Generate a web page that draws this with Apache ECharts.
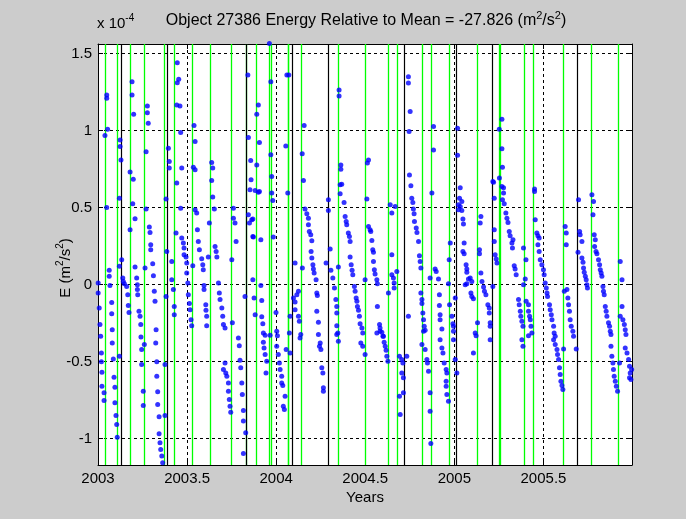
<!DOCTYPE html>
<html>
<head>
<meta charset="utf-8">
<script src="https://cdn.jsdelivr.net/npm/echarts@6/dist/echarts.min.js"></script>
<style>
  html, body { margin: 0; padding: 0; background: #cccccc; }
  #chart { width: 686px; height: 519px; }
</style>
</head>
<body>
<div id="chart"></div>
<script>
// Object 27386: orbital energy relative to its mean, in units of 1e-4 m^2/s^2.
// Each sample is [decimal year, energy].
const samples = [
  [2003.001,0.011],[2003.001,-0.054],[2003.007,-0.151],[2003.011,-0.259],[2003.015,-0.335],[2003.019,-0.443],[2003.019,-0.501],[2003.022,-0.569],[2003.022,-0.66],[2003.034,-0.702],[2003.034,-0.752],
  [2003.049,1.232],[2003.049,1.211],[2003.054,1.01],[2003.039,0.968],[2003.049,0.501],[2003.063,0.093],[2003.063,0.054],[2003.067,-0.006],[2003.077,-0.115],[2003.077,-0.188],[2003.080,-0.292],[2003.080,-0.378],[2003.086,-0.482],[2003.090,-0.601],[2003.095,-0.666],[2003.095,-0.767],[2003.101,-0.85],[2003.105,-0.908],[2003.108,-0.99],
  [2003.124,0.94],[2003.124,0.897],[2003.129,0.81],[2003.120,0.562],[2003.133,0.162],[2003.120,0.119],[2003.139,0.043],[2003.142,0.021],[2003.148,0.006],[2003.161,-0.011],[2003.167,-0.065],[2003.170,-0.136],[2003.174,-0.18],[2003.120,-0.465],
  [2003.191,1.318],[2003.191,1.232],[2003.200,1.107],[2003.180,0.731],[2003.198,0.685],[2003.180,0.357],[2003.195,0.525],[2003.208,0.428],[2003.208,0.115],[2003.217,0.043],[2003.221,0],[2003.221,-0.032],[2003.223,-0.065],[2003.230,-0.173],[2003.236,-0.205],[2003.240,-0.259],[2003.241,-0.339],[2003.245,-0.421],[2003.260,-0.389],[2003.245,-0.519],[2003.254,-0.692],[2003.254,-0.785],[2003.264,0.108],
  [2003.277,1.161],[2003.277,1.117],[2003.282,1.049],[2003.270,0.864],[2003.270,0.491],[2003.288,0.374],[2003.292,0.339],[2003.296,0.259],[2003.296,0.227],[2003.307,0.136],[2003.311,0.058],[2003.316,-0.043],[2003.320,-0.108],[2003.326,-0.292],[2003.324,-0.378],[2003.330,-0.501],[2003.330,-0.595],[2003.335,-0.696],[2003.335,-0.778],[2003.343,-0.858],[2003.343,-0.968],[2003.348,-1.027],[2003.352,-1.07],[2003.358,-1.113],[2003.363,-1.156],[2003.376,-0.519],[2003.376,-0.85],
  [2003.395,0.886],[2003.400,0.80],[2003.400,0.757],[2003.386,0.216],[2003.382,-0.076],[2003.382,0.556],[2003.414,0.151],[2003.414,0.032],[2003.423,-0.032],[2003.428,-0.141],[2003.428,-0.195],
  [2003.445,1.442],[2003.453,1.334],[2003.445,1.312],[2003.442,1.167],[2003.460,1.161],[2003.464,0.988],[2003.470,0.757],[2003.442,0.66],[2003.438,0.335],[2003.464,0.497],[2003.470,0.303],[2003.479,0.27],[2003.483,0.238],[2003.483,0.195],[2003.494,0.18],[2003.498,0.141],[2003.498,0.076],[2003.504,0.011],[2003.507,-0.065],[2003.513,-0.123],[2003.517,-0.162],[2003.522,-0.227],[2003.526,-0.266],
  [2003.539,1.033],[2003.545,0.93],[2003.535,0.763],[2003.545,0.746],[2003.532,0.123],[2003.545,0.486],[2003.554,0.465],[2003.558,0.357],[2003.563,0.281],[2003.569,0.227],[2003.582,0.169],[2003.588,0.13],[2003.591,0.097],[2003.595,-0.006],[2003.595,-0.032],[2003.605,-0.13],[2003.606,-0.166],[2003.610,-0.205],[2003.610,-0.266],
  [2003.638,0.793],[2003.644,0.757],[2003.638,0.676],[2003.625,0.40],[2003.619,0.18],[2003.644,0.569],[2003.653,0.491],[2003.657,0.248],[2003.663,0.216],[2003.667,0.18],[2003.676,0.011],[2003.681,-0.054],[2003.685,-0.097],[2003.695,-0.151],[2003.700,-0.205],[2003.704,-0.259],[2003.713,-0.281],[2003.704,-0.551],[2003.713,-0.508],[2003.717,-0.573],[2003.723,-0.595],[2003.732,-0.638],[2003.732,-0.692],[2003.737,-0.746],[2003.741,-0.789],[2003.745,-0.828],
  [2003.751,0.162],[2003.754,-0.248],[2003.760,0.497],[2003.760,0.432],[2003.769,0.40],[2003.775,0.281],[2003.788,-0.346],[2003.793,-0.396],[2003.797,-0.491],[2003.801,-0.54],[2003.807,-0.638],[2003.810,-0.713],[2003.816,-0.817],[2003.816,-0.886],[2003.829,-0.962],[2003.816,-1.096],[2003.825,-0.076],
  [2003.841,1.362],[2003.844,0.955],[2003.900,1.167],[2003.891,1.107],[2003.857,0.806],[2003.859,0.681],[2003.906,0.923],[2003.891,0.778],[2003.844,0.454],[2003.853,0.616],[2003.863,0.421],[2003.869,0.313],[2003.869,0.032],[2003.882,-0.195],[2003.906,0.605],[2003.882,0.612],[2003.900,0.601],[2003.869,0.426],[2003.850,0.40],[2003.872,0.309],[2003.914,0.292],[2003.914,-0.006],[2003.876,-0.086],[2003.919,-0.102],[2003.919,-0.209],[2003.925,-0.253],[2003.928,-0.313],[2003.938,-0.329],[2003.928,-0.374],[2003.932,-0.411],[2003.938,-0.454],[2003.947,-0.497],[2003.943,-0.573],
  [2003.962,1.567],[2003.970,1.318],[2003.970,0.843],[2003.975,0.702],[2003.975,0.595],[2003.981,0.547],[2003.984,0.309],[2003.966,-0.329],[2003.999,-0.18],[2004.003,-0.303],[2004.007,-0.331],[2004.003,-0.40],[2004.012,-0.454],[2004.018,-0.508],[2004.022,-0.551],[2004.031,-0.595],[2004.031,-0.638],[2004.037,-0.655],[2004.050,-0.724],[2004.040,-0.789],[2004.046,-0.81],[2004.054,0.90],[2004.060,1.362],[2004.071,1.362],[2004.056,-0.421],
  [2004.065,0.595],[2004.078,-0.205],[2004.074,-0.313],[2004.078,-0.443],[2004.097,-0.086],[2004.106,-0.112],[2004.106,-0.162],[2004.106,0.141],[2004.125,-0.043],[2004.116,-0.065],[2004.125,-0.205],[2004.130,-0.238],[2004.138,-0.324],[2004.134,-0.346],[2004.147,0.108],[2004.157,1.033],[2004.146,0.85],[2004.153,0.676],
  [2004.162,0.491],[2004.172,0.46],[2004.181,0.432],[2004.181,0.389],[2004.186,0.346],[2004.194,0.324],[2004.200,0.285],[2004.196,0.216],[2004.200,0.173],[2004.206,0.13],[2004.209,0.102],[2004.213,0.076],[2004.224,0.032],[2004.228,-0.054],[2004.231,-0.071],[2004.228,-0.173],[2004.237,-0.244],[2004.237,-0.324],[2004.247,-0.378],[2004.243,-0.40],[2004.251,-0.421],[2004.256,-0.54],[2004.262,-0.573],[2004.265,-0.67],[2004.265,-0.692],[2004.280,0.141],
  [2004.293,0.551],[2004.293,0.482],[2004.303,0.232],[2004.307,0.093],[2004.318,0.043],[2004.327,-0.021],[2004.335,-0.097],[2004.340,-0.141],[2004.340,-0.184],[2004.340,-0.266],[2004.346,-0.313],[2004.340,-0.324],[2004.349,-0.368],[2004.349,0.115],[2004.353,1.265],[2004.353,1.226],[2004.363,0.778],[2004.363,0.75],[2004.368,0.653],[2004.359,0.649],[2004.359,0.59],
  [2004.381,0.534],[2004.387,0.443],[2004.393,0.41],[2004.396,0.389],[2004.405,0.335],[2004.411,0.313],[2004.415,0.281],[2004.415,0.18],[2004.421,0.13],[2004.426,0.093],[2004.430,0.065],[2004.439,-0.011],[2004.443,-0.043],[2004.449,-0.086],[2004.453,-0.108],[2004.456,-0.141],[2004.462,-0.166],[2004.467,-0.205],[2004.471,-0.253],[2004.481,-0.281],[2004.486,-0.313],[2004.475,-0.378],[2004.486,-0.40],[2004.499,-0.454],[2004.499,0.032],
  [2004.518,0.81],[2004.512,0.79],[2004.509,0.556],[2004.518,0.378],[2004.527,0.357],[2004.531,0.346],[2004.537,0.287],[2004.542,0.227],[2004.546,0.21],[2004.546,0.151],[2004.551,0.097],[2004.555,0.069],[2004.565,0.032],[2004.568,0.006],[2004.568,-0.141],[2004.580,-0.259],[2004.583,-0.281],[2004.593,-0.309],[2004.602,-0.335],[2004.565,-0.313],[2004.583,-0.303],[2004.599,-0.335],[2004.606,-0.374],[2004.612,-0.40],[2004.617,-0.426],[2004.621,-0.465],[2004.627,-0.497],
  [2004.640,0.519],[2004.649,0.465],[2004.668,0.508],[2004.649,0.195],[2004.649,0.065],[2004.658,0.043],[2004.662,0.011],[2004.662,-0.021],[2004.630,-0.054],[2004.677,0.086],[2004.692,-0.465],[2004.705,-0.486],[2004.711,-0.508],[2004.705,-0.573],[2004.714,-0.605],[2004.714,-0.702],[2004.692,-0.724],[2004.696,-0.843],
  [2004.742,1.35],[2004.742,1.31],[2004.752,1.124],[2004.746,0.994],[2004.748,0.713],[2004.756,0.642],[2004.761,0.562],[2004.767,0.534],[2004.770,0.491],[2004.774,0.46],[2004.776,0.41],[2004.786,0.368],[2004.790,0.339],[2004.799,0.281],[2004.804,0.188],[2004.808,0.151],[2004.812,0.108],[2004.742,-0.205],[2004.812,-0.054],[2004.818,-0.097],[2004.818,-0.123],[2004.823,-0.184],[2004.827,-0.227],[2004.831,-0.27],[2004.836,-0.296],[2004.733,-0.465],[2004.836,-0.421],[2004.846,-0.486],[2004.849,-0.508],[2004.855,-0.562],[2004.864,-0.702],[2004.864,-0.822],[2004.868,-1.031],[2004.827,-0.303],[2004.818,-0.389],
  [2004.883,1.027],[2004.883,0.875],[2004.874,0.595],[2004.864,0.043],[2004.892,0.102],[2004.898,0.086],[2004.911,0.037],[2004.916,-0.065],[2004.916,-0.136],[2004.920,-0.195],[2004.920,-0.227],[2004.930,-0.287],[2004.920,-0.357],[2004.930,-0.411],[2004.936,-0.443],[2004.943,-0.508],[2004.954,-0.551],[2004.958,-0.573],[2004.954,-0.627],[2004.954,-0.66],[2004.958,-0.713],[2004.967,-0.757],[2004.971,0.162],[2004.967,0.006],[2004.973,-0.13],[2004.986,-0.205],[2004.992,-0.253],[2004.995,-0.27],[2004.977,0.27],[2004.995,-0.303],[2004.995,-0.357],[2005.005,-0.486],[2005.014,-0.573],[2005.005,-0.086],
  [2005.018,1.016],[2005.018,0.841],[2005.033,0.629],[2005.029,0.562],[2005.042,0.54],[2005.033,0.508],[2005.042,0.482],[2005.023,0.519],[2005.023,0.486],[2005.048,0.426],[2005.051,0.394],[2005.055,0.27],[2005.048,0.216],[2005.055,0.201],[2005.066,0.13],[2005.070,0.102],[2005.070,0.08],[2005.079,0.037],[2005.089,0.043],[2005.098,0.021],[2005.070,0.006],[2005.061,0],[2005.093,-0.054],[2005.098,-0.076],[2005.107,-0.091],[2005.117,-0.313],[2005.122,-0.331],[2005.130,-0.248],[2005.107,-0.443],
  [2005.141,0.227],[2005.141,0.201],[2005.149,0.443],[2005.145,0.40],[2005.149,0.076],[2005.155,0.021],[2005.164,-0.015],[2005.169,-0.043],[2005.177,-0.065],[2005.188,-0.13],[2005.196,-0.151],[2005.196,-0.184],[2005.201,-0.248],[2005.201,-0.27],[2005.201,-0.357],
  [2005.216,0.67],[2005.224,0.562],[2005.224,0.357],[2005.224,0.281],[2005.229,0.195],[2005.235,0.167],[2005.239,0.141],[2005.216,-0.011],[2005.267,1.074],[2005.252,1.01],[2005.267,0.882],[2005.270,0.763],[2005.253,0.692],[2005.220,0.666],[2005.276,0.629],[2005.267,0.638],[2005.276,0.595],[2005.270,0.551],[2005.280,0.525],[2005.289,0.465],[2005.295,0.432],[2005.301,0.404],[2005.308,0.346],[2005.313,0.318],[2005.329,0.292],[2005.323,0.27],[2005.326,0.238],[2005.336,0.123],[2005.341,0.102],[2005.347,0.065],[2005.360,-0.097],[2005.364,-0.13],[2005.370,-0.173],[2005.373,-0.205],[2005.379,-0.238],[2005.385,-0.27],[2005.379,-0.357],[2005.385,-0.40],
  [2005.388,0.238],[2005.402,0.162],[2005.398,0.037],[2005.388,0],[2005.403,-0.108],[2005.416,-0.13],[2005.416,-0.173],[2005.422,-0.205],[2005.426,-0.227],[2005.430,-0.27],[2005.435,-0.313],[2005.416,-0.331],[2005.450,0.621],[2005.450,0.605],[2005.454,0.421],[2005.463,0.335],[2005.469,0.318],[2005.476,0.303],[2005.469,0.259],[2005.476,0.216],[2005.482,0.162],[2005.491,0.13],[2005.500,0.097],[2005.504,0.065],[2005.510,0.011],[2005.516,-0.021],[2005.520,-0.054],[2005.523,-0.076],
  [2005.534,-0.13],[2005.538,-0.162],[2005.544,-0.195],[2005.548,-0.227],[2005.557,-0.27],[2005.560,-0.313],[2005.566,-0.335],[2005.557,-0.357],[2005.566,-0.389],[2005.576,-0.421],[2005.579,-0.454],[2005.585,-0.486],[2005.590,-0.54],[2005.594,-0.584],[2005.598,-0.627],[2005.604,-0.655],[2005.609,-0.681],[2005.613,-0.417],
  [2005.622,0.378],[2005.628,0.335],[2005.628,0.259],[2005.617,-0.043],[2005.632,-0.032],[2005.637,-0.086],[2005.641,-0.13],[2005.646,-0.173],[2005.650,-0.227],[2005.656,-0.27],[2005.665,-0.303],[2005.669,-0.335],[2005.684,-0.417],[2005.697,0.551],[2005.703,0.346],[2005.706,0.324],[2005.716,0.281],[2005.694,0.21],[2005.716,0.173],[2005.722,0.145],[2005.725,0.108],[2005.729,0.08],[2005.735,0.054],[2005.740,0.032],[2005.744,0],[2005.747,-0.021],
  [2005.772,0.584],[2005.781,0.54],[2005.778,0.454],[2005.785,0.324],[2005.791,0.292],[2005.787,0.248],[2005.795,0.216],[2005.800,0.201],[2005.809,0.162],[2005.815,0.13],[2005.819,0.097],[2005.824,0.076],[2005.828,0.054],[2005.834,-0.011],[2005.837,-0.043],[2005.841,-0.065],[2005.847,-0.141],[2005.852,-0.173],[2005.856,-0.205],[2005.865,-0.248],[2005.871,-0.27],[2005.875,-0.303],[2005.879,-0.324],[2005.879,-0.40],[2005.884,-0.465],[2005.890,-0.508],[2005.893,-0.551],[2005.897,-0.595],[2005.903,-0.627],[2005.909,-0.66],[2005.916,-0.692],
  [2005.931,0.151],[2005.941,0.032],[2005.941,-0.141],[2005.931,-0.205],[2005.946,-0.227],[2005.954,-0.259],[2005.959,-0.292],[2005.963,-0.324],[2005.959,-0.411],[2005.969,-0.443],[2005.978,-0.486],[2005.983,-0.53],[2005.987,-0.573],[2005.991,-0.616],[2005.927,-0.508],[2005.995,-0.551],[2005.983,-0.605]
];

// Event epochs drawn as full-height vertical markers
const greenEvents = [2003.035, 2003.114, 2003.176, 2003.260, 2003.372, 2003.432, 2003.532, 2003.625, 2003.751, 2003.831, 2003.887, 2003.956, 2003.970, 2004.065, 2004.072, 2004.144, 2004.351, 2004.499, 2004.627, 2004.677, 2004.815, 2004.870, 2004.968, 2005.135, 2005.252, 2005.257, 2005.388, 2005.444, 2005.613, 2005.772, 2005.921];
const blackEvents = [2003.133, 2003.386, 2003.825, 2004.088, 2004.287, 2004.725, 2005.014, 2005.211, 2005.688];

// Axis ticks and extents
const xTickValues = [2003, 2003.5, 2004, 2004.5, 2005, 2005.5];
const yTickValues = [-1, -0.5, 0, 0.5, 1, 1.5];
const xExtent = [2003, 2005.997];
const yExtent = [-1.171, 1.563];

const FONT = "'Liberation Sans', Arial, Helvetica, sans-serif";
const chart = echarts.init(document.getElementById('chart'), null, { renderer: 'canvas' });

function tickAxis(position, showLabels, extent, ticks) {
  return {
    type: 'value',
    position: position,
    min: extent[0],
    max: extent[1],
    axisLine: { show: true, onZero: false, lineStyle: { color: '#000', width: 1 } },
    axisTick: { show: true, inside: true, length: 5, customValues: ticks, lineStyle: { color: '#000', width: 1 } },
    axisLabel: {
      show: showLabels, customValues: ticks, color: '#000', fontSize: 15, fontFamily: FONT, margin: 6,
      formatter: v => String(v)
    },
    splitLine: {
      show: showLabels,
      lineStyle: { color: '#000', width: 1, type: [3, 3] }
    },
    axisPointer: { show: false }
  };
}

const xAxisMain = tickAxis('bottom', true, xExtent, xTickValues);
const xAxisTop = tickAxis('top', false, xExtent, xTickValues);
const yAxisMain = tickAxis('left', true, yExtent, yTickValues);
const yAxisRight = tickAxis('right', false, yExtent, yTickValues);

const supRich = {
  n: { fontSize: 15, fontFamily: FONT, fill: '#000', lineHeight: 22 },
  s: { fontSize: 10, fontFamily: FONT, fill: '#000', verticalAlign: 'top', lineHeight: 10 }
};
const titleRich = {
  n: { fontSize: 16, fontFamily: FONT, fill: '#000', lineHeight: 22 },
  s: { fontSize: 11, fontFamily: FONT, fill: '#000', verticalAlign: 'top', lineHeight: 11 }
};

chart.setOption({
  animation: false,
  backgroundColor: '#cccccc',
  grid: {
    left: 98, top: 44, width: 534, height: 421,
    show: true, backgroundColor: '#ffffff', borderWidth: 0,
    containLabel: false, outerBoundsMode: 'none'
  },
  xAxis: [xAxisMain, xAxisTop],
  yAxis: [yAxisMain, yAxisRight],
  graphic: [
    {
      type: 'text', x: 366, y: 21, silent: true,
      style: {
        text: '{n|Object 27386 Energy Relative to Mean = -27.826 (m}{s|2}{n|/s}{s|2}{n|)}',
        rich: titleRich, align: 'center', verticalAlign: 'middle'
      }
    },
    {
      type: 'text', x: 97, y: 24, silent: true,
      style: { text: '{n|x 10}{s|-4}', rich: supRich, align: 'left', verticalAlign: 'middle' }
    },
    {
      type: 'text', x: 365, y: 498, silent: true,
      style: { text: 'Years', fontSize: 15, fontFamily: FONT, fill: '#000', align: 'center', verticalAlign: 'middle' }
    },
    {
      type: 'text', x: 66, y: 268, rotation: Math.PI / 2, silent: true,
      style: { text: '{n|E (m}{s|2}{n|/s}{s|2}{n|)}', rich: supRich, align: 'center', verticalAlign: 'middle' }
    }
  ],
  series: [
    {
      name: 'green events', type: 'scatter', data: [], silent: true, z: 2,
      markLine: {
        silent: true, symbol: 'none', animation: false,
        label: { show: false },
        lineStyle: { color: '#00ff00', width: 1.3, type: 'solid' },
        emphasis: { disabled: true },
        data: greenEvents.map(t => ({ xAxis: t }))
      }
    },
    {
      name: 'black events', type: 'scatter', data: [], silent: true, z: 3,
      markLine: {
        silent: true, symbol: 'none', animation: false,
        label: { show: false },
        lineStyle: { color: '#000000', width: 1.2, type: 'solid' },
        emphasis: { disabled: true },
        data: blackEvents.map(t => ({ xAxis: t }))
      }
    },
    {
      name: 'energy', type: 'scatter', data: samples, z: 5, clip: false,
      symbol: 'circle', symbolSize: 5,
      itemStyle: { color: '#0000ff' },
      emphasis: { disabled: true }
    }
  ]
});
</script>
</body>
</html>
